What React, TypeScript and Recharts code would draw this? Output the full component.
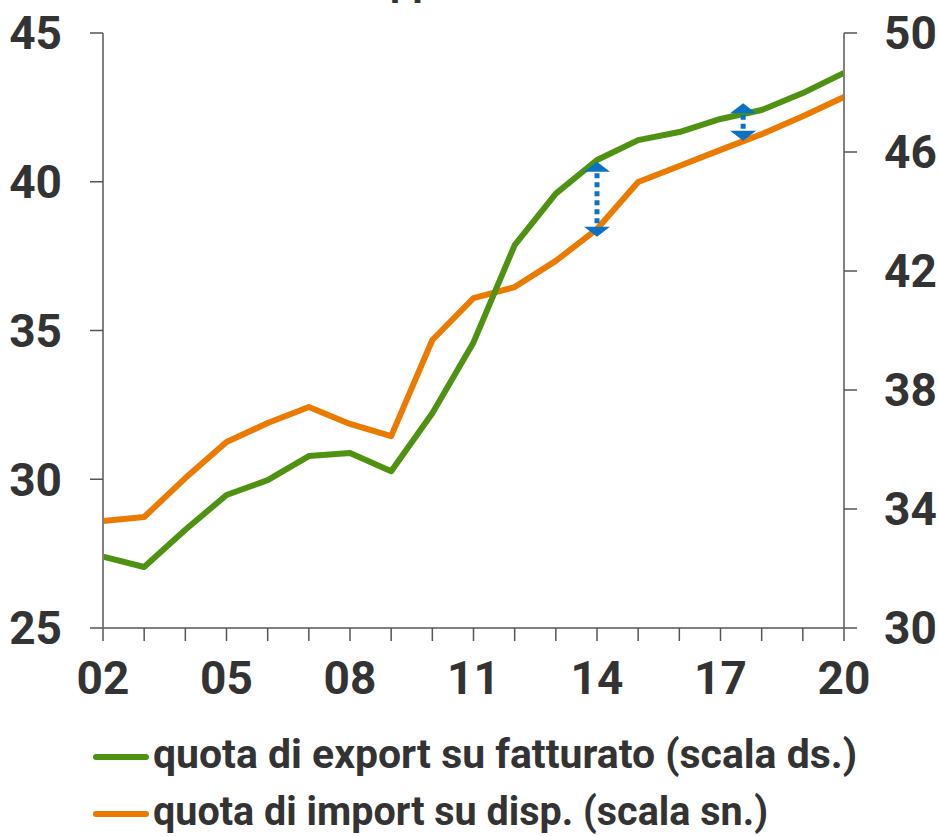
import React from 'react';
import { LineChart, Line, XAxis, YAxis, ReferenceLine, ReferenceDot } from 'recharts';

const years = [2, 3, 4, 5, 6, 7, 8, 9, 10, 11, 12, 13, 14, 15, 16, 17, 18, 19, 20];
const labeledYears = [2, 5, 8, 11, 14, 17, 20];

// quota di export su fatturato (right scale)
const exportShare = [32.4, 32.05, 33.3, 34.47, 34.97, 35.78, 35.88, 35.27, 37.22, 39.6, 42.87, 44.6, 45.73, 46.4, 46.67, 47.11, 47.41, 47.98, 48.66];
// quota di import su disp. (left scale)
const importShare = [28.6, 28.73, 30.04, 31.25, 31.89, 32.43, 31.86, 31.45, 34.68, 36.09, 36.46, 37.34, 38.41, 39.99, 40.53, 41.07, 41.6, 42.2, 42.85];

const leftTicks = [25, 30, 35, 40, 45];
const rightTicks = [30, 34, 38, 42, 46, 50];

// gap arrows (left-scale units): x, top tip, bottom tip
const arrowX = [14, 17.55];
const arrowTop = [40.67, 42.64];
const arrowBottom = [38.15, 41.38];

const legendNames = ['quota di export su fatturato (scala ds.)', 'quota di import su disp. (scala sn.)'];

const data = years.map((y, i) => ({ year: y, exp: exportShare[i], imp: importShare[i] }));

const GREEN = '#4f9212';
const ORANGE = '#ea7b00';
const BLUE = '#0a72c4';
const TEXT = '#333333';
const HEAD = 10; // arrow head height in px

const tickFont = { fill: TEXT, fontSize: 46, fontWeight: 700, fontFamily: 'Roboto' };

const headShape = (up: boolean) => (props: any) => {
  const { cx, cy } = props;
  const d = up
    ? `M${cx},${cy} L${cx + 13},${cy + HEAD} L${cx - 13},${cy + HEAD} Z`
    : `M${cx},${cy} L${cx + 13},${cy - HEAD} L${cx - 13},${cy - HEAD} Z`;
  return <path d={d} fill={BLUE} />;
};

const pxPerUnit = 595 / 20;

export default function App() {
  const legendRows = [
    { name: legendNames[0], color: GREEN, y: 768, len: 704 },
    { name: legendNames[1], color: ORANGE, y: 825, len: 615 },
  ];
  return (
    <div style={{ position: 'absolute', left: 0, top: 0, width: 938, height: 836, background: '#fff', overflow: 'hidden' }}>
      <div style={{ position: 'absolute', left: 390, top: -42, fontFamily: 'Roboto', fontWeight: 700, fontSize: 40, color: TEXT }}>pp</div>
      <LineChart width={938} height={720} data={data} margin={{ top: 33, right: 0, bottom: 0, left: 0 }}>
        <XAxis
          dataKey="year"
          type="number"
          domain={[2, 20]}
          ticks={years}
          interval={0}
          tickFormatter={(v: number) => (labeledYears.includes(v) ? String(v).padStart(2, '0') : '')}
          tick={tickFont}
          tickSize={13}
          tickMargin={20}
          height={92}
          axisLine={{ stroke: '#808080', strokeWidth: 2 }}
          tickLine={{ stroke: '#555', strokeWidth: 1.5 }}
        />
        <YAxis
          yAxisId="left"
          domain={[25, 45]}
          ticks={leftTicks}
          width={103}
          tick={tickFont}
          tickSize={13}
          tickMargin={28}
          axisLine={{ stroke: '#808080', strokeWidth: 2 }}
          tickLine={{ stroke: '#555', strokeWidth: 1.5 }}
        />
        <YAxis
          yAxisId="right"
          orientation="right"
          domain={[30, 50]}
          ticks={rightTicks}
          width={94}
          tick={tickFont}
          tickSize={13}
          tickMargin={27}
          axisLine={{ stroke: '#808080', strokeWidth: 2 }}
          tickLine={{ stroke: '#555', strokeWidth: 1.5 }}
        />
        <Line yAxisId="left" dataKey="imp" stroke={ORANGE} strokeWidth={6} dot={false} isAnimationActive={false} strokeLinejoin="round" />
        <Line yAxisId="right" dataKey="exp" stroke={GREEN} strokeWidth={6} dot={false} isAnimationActive={false} strokeLinejoin="round" />
        {arrowX.map((x, i) => (
          <ReferenceLine
            key={'l' + i}
            yAxisId="left"
            segment={[
              { x, y: arrowTop[i] - HEAD / pxPerUnit - 0.05 },
              { x, y: arrowBottom[i] + HEAD / pxPerUnit + 0.05 },
            ]}
            stroke={BLUE}
            strokeWidth={5}
            strokeDasharray="5 4"
            ifOverflow="visible"
          />
        ))}
        {arrowX.map((x, i) => (
          <ReferenceDot key={'t' + i} yAxisId="left" x={x} y={arrowTop[i]} shape={headShape(true)} ifOverflow="visible" />
        ))}
        {arrowX.map((x, i) => (
          <ReferenceDot key={'b' + i} yAxisId="left" x={x} y={arrowBottom[i]} shape={headShape(false)} ifOverflow="visible" />
        ))}
      </LineChart>
      <svg width={938} height={836} style={{ position: 'absolute', left: 0, top: 0, pointerEvents: 'none' }}>
        {legendRows.map((r) => (
          <g key={r.name}>
            <line x1={96} x2={146} y1={r.y - 11} y2={r.y - 11} stroke={r.color} strokeWidth={6} strokeLinecap="round" />
            <text
              x={153}
              y={r.y}
              textLength={r.len}
              lengthAdjust="spacingAndGlyphs"
              fontFamily="Roboto"
              fontWeight={700}
              fontSize={40}
              fill={TEXT}
            >
              {r.name}
            </text>
          </g>
        ))}
      </svg>
    </div>
  );
}
